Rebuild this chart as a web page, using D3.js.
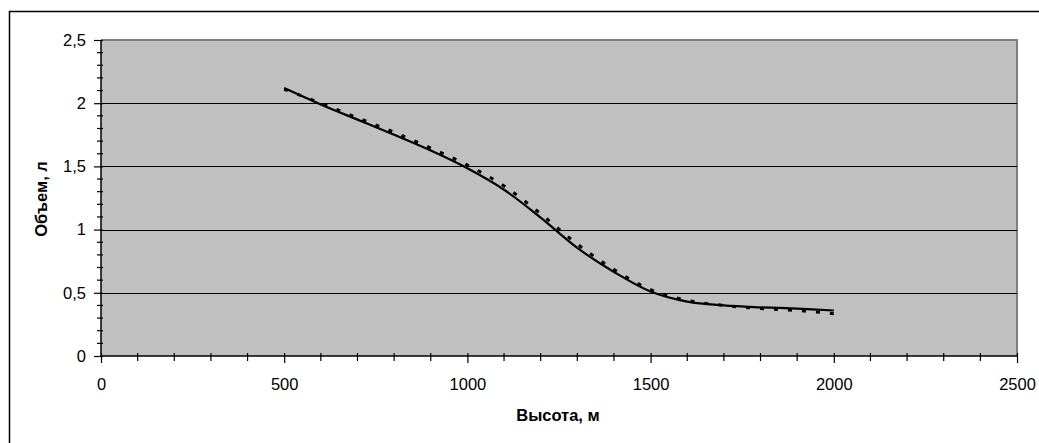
<!DOCTYPE html>
<html><head><meta charset="utf-8">
<script src="https://cdn.jsdelivr.net/npm/d3@7/dist/d3.min.js"></script>
<style>body{margin:0;background:#fff}svg{display:block}text{font-family:"Liberation Sans",Arial,sans-serif}</style>
</head><body><svg id="c" width="1039" height="443"></svg>
<script>
const heights = [500, 600, 700, 800, 900, 1000, 1100, 1200, 1300, 1400, 1500, 1600, 1700, 1800, 1900, 2000];
const volumeSolid = [2.12, 1.99, 1.87, 1.75, 1.625, 1.485, 1.315, 1.095, 0.855, 0.665, 0.51, 0.43, 0.40, 0.385, 0.375, 0.36];
const volumeDashed = [2.11, 2.00, 1.885, 1.77, 1.645, 1.51, 1.345, 1.125, 0.885, 0.685, 0.525, 0.44, 0.40, 0.375, 0.36, 0.335];
const xTicks = [0, 500, 1000, 1500, 2000, 2500];
const yTicks = [0, 0.5, 1, 1.5, 2, 2.5];
const xTitle = "Высота, м";
const yTitle = "Объем, л";

const svg = d3.select("#c");
const L = 101, R = 1017, T = 40, B = 356;
const x = d3.scaleLinear().domain([0, 2500]).range([L, R]);
const y = d3.scaleLinear().domain([0, 2.5]).range([B, T]);
const fmt = d => String(d).replace(".", ",");
const FS = 16.5;

svg.append("rect").attr("x", 9.5).attr("y", 11.5).attr("width", 1100).attr("height", 500)
  .attr("fill", "none").attr("stroke", "#000").attr("stroke-width", 1.5);

svg.append("rect").attr("x", L).attr("y", T).attr("width", R - L).attr("height", B - T).attr("fill", "#c0c0c0");
svg.append("path").attr("d", `M${L},${T}H${R}V${B}`).attr("fill", "none").attr("stroke", "#808080").attr("stroke-width", 2);

svg.append("g").selectAll("line").data(yTicks.filter(d => d > 0 && d < 2.5)).join("line")
  .attr("x1", L).attr("x2", R).attr("y1", d => Math.round(y(d)) + 0.5).attr("y2", d => Math.round(y(d)) + 0.5)
  .attr("stroke", "#000").attr("stroke-width", 1);

const xMinor = d3.range(0, 2501, 100).filter(d => d % 500 !== 0);
const yMinor = d3.range(0, 26, 1).map(d => d / 10).filter(d => Math.round(d * 10) % 5 !== 0);

const xAxis = svg.append("g").attr("transform", `translate(0,${B})`)
  .call(d3.axisBottom(x).tickValues(xTicks).tickFormat(fmt).tickSize(7));
const yAxis = svg.append("g").attr("transform", `translate(${L},0)`)
  .call(d3.axisLeft(y).tickValues(yTicks).tickFormat(fmt).tickSize(7).tickPadding(8));
[xAxis, yAxis].forEach(g => {
  g.select(".domain").attr("stroke", "#000").attr("stroke-width", 1.5);
  g.selectAll(".tick line").attr("stroke", "#000").attr("stroke-width", 1.2);
  g.selectAll("text").attr("font-size", FS).attr("fill", "#000").attr("font-family", "Liberation Sans, Arial, sans-serif");
});
xAxis.selectAll(".tick text").attr("y", 34).attr("dy", 0);
xAxis.select(".domain").attr("d", `M${L},0H${R}`);
yAxis.select(".domain").attr("d", `M0,${B}V${T}`);
xAxis.selectAll(".tick line").attr("y1", -3);
yAxis.selectAll(".tick line").attr("x1", 2);
svg.append("g").selectAll("line").data(xMinor).join("line")
  .attr("x1", d => x(d)).attr("x2", d => x(d)).attr("y1", B - 3).attr("y2", B + 5)
  .attr("stroke", "#000").attr("stroke-width", 1.2);
svg.append("g").selectAll("line").data(yMinor).join("line")
  .attr("x1", L - 4).attr("x2", L + 2).attr("y1", d => y(d)).attr("y2", d => y(d))
  .attr("stroke", "#000").attr("stroke-width", 1.2);

const lineGen = d3.line().curve(d3.curveCatmullRom.alpha(0.5));
svg.append("path").attr("d", lineGen(heights.map((h, i) => [x(h), y(volumeDashed[i])])))
  .attr("fill", "none").attr("stroke", "#000").attr("stroke-width", 3).attr("stroke-dasharray", "4,10");
svg.append("path").attr("d", lineGen(heights.map((h, i) => [x(h), y(volumeSolid[i])])))
  .attr("fill", "none").attr("stroke", "#000").attr("stroke-width", 2.2);

svg.append("text").attr("x", 558).attr("y", 421).attr("text-anchor", "middle")
  .attr("font-size", FS).attr("font-weight", "bold").text(xTitle);
svg.append("text").attr("transform", "translate(47,199) rotate(-90)").attr("text-anchor", "middle")
  .attr("font-size", FS).attr("font-weight", "bold").text(yTitle);
</script></body></html>
